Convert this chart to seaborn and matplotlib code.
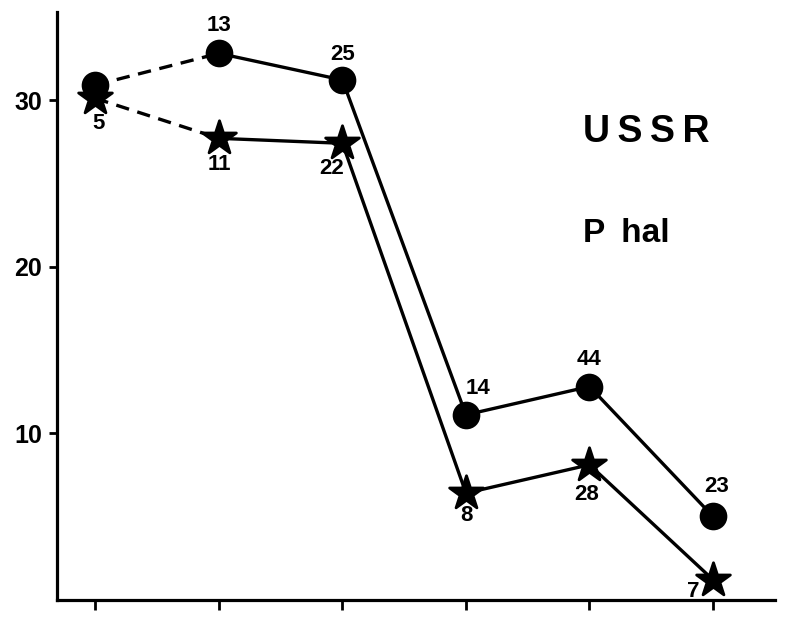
import matplotlib
matplotlib.use("Agg")
import matplotlib.pyplot as plt
import seaborn as sns
import pandas as pd

# Data
x_pos = [0, 1, 2, 3, 4, 5]
circle_vals = [30.9, 32.8, 31.2, 11.1, 12.8, 5.0]
star_vals = [30.1, 27.7, 27.4, 6.4, 8.1, 1.2]
circle_labels = ["", "13", "25", "14", "44", "23"]
star_labels = ["5", "11", "22", "8", "28", "7"]

# Label offsets in pixels (dx, dy)
circle_offsets = [(0, 0), (0, 28), (0, 26), (12, 26), (0, 27), (4, 30)]
star_offsets = [(3, -25), (0, -26), (-11, -25), (0, -22), (-3, -30), (-20, -12)]

sns.set_style("ticks")
plt.rcParams["font.family"] = ["Liberation Sans", "DejaVu Sans"]
plt.rcParams["font.weight"] = "bold"
plt.rcParams["text.color"] = "black"
plt.rcParams["axes.edgecolor"] = "black"
plt.rcParams["xtick.color"] = "black"
plt.rcParams["ytick.color"] = "black"

df = pd.DataFrame({
    "x": x_pos * 2,
    "y": circle_vals + star_vals,
    "series": ["circle"] * 6 + ["star"] * 6,
})
df_solid = df[df["x"] >= 1]
df_dash = df[df["x"] <= 1]

fig = plt.figure(figsize=(7.93, 6.17), dpi=100)
ax = fig.add_axes([0.072, 0.028, 0.905, 0.953])

# Solid segments
sns.lineplot(data=df_solid, x="x", y="y", units="series", estimator=None,
             color="black", linewidth=2.4, ax=ax, legend=False)
# Dashed first segment
sns.lineplot(data=df_dash, x="x", y="y", units="series", estimator=None,
             color="black", linewidth=2.4, dashes=False, ax=ax, legend=False)
for line in ax.lines[2:]:
    line.set_linestyle((0, (4, 2.6)))

# Markers
sns.scatterplot(data=df[df["series"] == "circle"], x="x", y="y", marker="o",
                s=340, color="black", edgecolor="black", ax=ax, legend=False, zorder=5)
sns.scatterplot(data=df[df["series"] == "star"], x="x", y="y", marker="*",
                s=650, color="black", edgecolor="black", ax=ax, legend=False, zorder=6)

# Point labels
for xi, yi, lab, (dx, dy) in zip(x_pos, circle_vals, circle_labels, circle_offsets):
    if lab:
        ax.annotate(lab, (xi, yi), xytext=(dx, dy), textcoords="offset pixels",
                    ha="center", va="center", fontsize=16, fontweight="bold")
for xi, yi, lab, (dx, dy) in zip(x_pos, star_vals, star_labels, star_offsets):
    ax.annotate(lab, (xi, yi), xytext=(dx, dy), textcoords="offset pixels",
                ha="center", va="center", fontsize=16, fontweight="bold")

# Titles inside the plot
ax.text(3.95, 28.1, "U\u2009S\u2009S\u2009R", ha="left", va="center",
        fontsize=27, fontweight="bold")
ax.text(3.95, 22.0, "P\u2009 hal", ha="left", va="center",
        fontsize=24, fontweight="bold")

ax.set_xlim(-0.31, 5.5)
ax.set_ylim(0, 35.3)
ax.set_xticks(x_pos)
ax.set_xticklabels([])
ax.set_yticks([10, 20, 30])
ax.set_yticklabels(["10", "20", "30"], fontsize=18, fontweight="bold")
ax.set_xlabel("")
ax.set_ylabel("")
ax.tick_params(axis="x", length=7, width=2, direction="out")
ax.tick_params(axis="y", length=6, width=2, direction="out", pad=5)
for side in ["left", "bottom"]:
    ax.spines[side].set_linewidth(2.3)
sns.despine(ax=ax)

fig.savefig("out.png", dpi=100)
